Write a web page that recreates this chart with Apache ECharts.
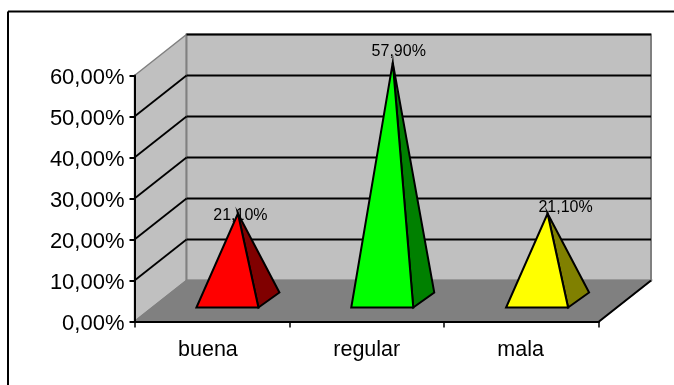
<!DOCTYPE html>
<html>
<head>
<meta charset="utf-8">
<style>html,body{margin:0;padding:0;background:#fff}#chart{width:674px;height:385px}</style>
<script src="https://cdn.jsdelivr.net/npm/echarts@6/dist/echarts.min.js"></script>
</head>
<body>
<div id="chart"></div>
<script>
// Survey result shares, in percent
const categories = ['buena', 'regular', 'mala'];
const shares = [21.1, 57.9, 21.1];
const valueTicks = [0, 10, 20, 30, 40, 50, 60];
const frontColors = ['#ff0000', '#00ff00', '#ffff00'];
const sideColors = ['#800000', '#008000', '#808000'];

// Oblique projection of the chart box, in pixels
const DEPTH_X = 52;
const DEPTH_Y = 41;
const BASE_WIDTH = 62;
const BASE_SHIFT_X = 15.5;
const BASE_FRONT_Y = 14;
const BASE_BACK_Y = 29;
const BASE_BACK_X = 21;
const labelNudge = [[2.5, 2], [6, -11], [18, -6]];
const categoryNudge = [8, 0, 2];

const percentText = v => v.toFixed(2).replace('.', ',') + '%';
const line = (x1, y1, x2, y2, stroke, lineWidth) => ({
  type: 'line',
  shape: { x1, y1, x2, y2 },
  style: { stroke, lineWidth }
});
const poly = (points, fill, stroke, lineWidth) => ({
  type: 'polygon',
  shape: { points },
  style: { fill, stroke, lineWidth, lineJoin: 'miter', miterLimit: 12 }
});

// Back wall, side wall, floor and the gridlines that wrap around them
function renderBox(params, api) {
  const band = api.size([1, 0])[0];
  const left = api.coord([0, 0])[0] - band / 2;
  const right = left + band * categories.length;
  const bottom = api.coord([0, 0])[1];
  const top = api.coord([0, 60])[1];
  const children = [
    poly([[left, bottom], [left + DEPTH_X, bottom - DEPTH_Y], [left + DEPTH_X, top - DEPTH_Y], [left, top]], '#c0c0c0', '#808080', 1.5),
    poly([[left + DEPTH_X, bottom - DEPTH_Y], [right + DEPTH_X, bottom - DEPTH_Y], [right + DEPTH_X, top - DEPTH_Y], [left + DEPTH_X, top - DEPTH_Y]], '#c0c0c0', '#808080', 2),
    poly([[left, bottom], [right, bottom], [right + DEPTH_X, bottom - DEPTH_Y], [left + DEPTH_X, bottom - DEPTH_Y]], '#808080', '#808080', 1.5)
  ];
  const topTick = valueTicks[valueTicks.length - 1];
  valueTicks.slice(1).forEach(v => {
    const y = api.coord([0, v])[1];
    // The upper edge of the side wall keeps its grey outline
    if (v !== topTick) {
      children.push(line(left, y, left + DEPTH_X, y - DEPTH_Y, '#000', 1.8));
    }
    children.push(line(left + DEPTH_X, y - DEPTH_Y, right + DEPTH_X, y - DEPTH_Y, '#000', 2));
  });
  children.push(line(right, bottom, right + DEPTH_X, bottom - DEPTH_Y, '#000', 2));
  return { type: 'group', children };
}

// One pyramid per category: value label, then lit front face and shaded side face
function renderPyramid(params, api) {
  const i = api.value(0);
  const value = api.value(1);
  const base = api.coord([i, 0]);
  const peak = api.coord([i, value]);
  const cx = base[0] + BASE_SHIFT_X;
  const fl = [cx - BASE_WIDTH / 2, base[1] - BASE_FRONT_Y];
  const fr = [cx + BASE_WIDTH / 2, base[1] - BASE_FRONT_Y];
  const br = [fr[0] + BASE_BACK_X, base[1] - BASE_BACK_Y];
  const apex = [cx + BASE_BACK_X / 2, peak[1] - (BASE_FRONT_Y + BASE_BACK_Y) / 2];
  return {
    type: 'group',
    children: [
      {
        type: 'text',
        style: {
          x: apex[0] + labelNudge[i][0],
          y: apex[1] + labelNudge[i][1],
          text: percentText(value),
          font: '16px "Liberation Sans"',
          fill: '#000',
          align: 'center',
          verticalAlign: 'middle'
        }
      },
      poly([fr, br, apex], sideColors[i], '#000', 2),
      poly([fl, fr, apex], frontColors[i], '#000', 2)
    ]
  };
}

const chart = echarts.init(document.getElementById('chart'), null, { renderer: 'canvas' });
chart.setOption({
  animation: false,
  backgroundColor: '#fff',
  grid: { left: 134.5, right: 75, top: 75.5, bottom: 63.5 },
  xAxis: {
    type: 'category',
    data: categories.map((value, i) => ({
      value,
      textStyle: { padding: [0, categoryNudge[i], 0, 0] }
    })),
    z: 5,
    axisLine: { show: true, lineStyle: { color: '#000', width: 2 } },
    axisTick: { show: true, length: 6, lineStyle: { color: '#000', width: 1.5 } },
    axisLabel: { color: '#000', fontFamily: 'Liberation Sans', fontSize: 21.5, margin: 18 },
    splitLine: { show: false }
  },
  yAxis: {
    type: 'value',
    min: valueTicks[0],
    max: valueTicks[valueTicks.length - 1],
    interval: 10,
    z: 5,
    axisLine: { show: true, lineStyle: { color: '#000', width: 2 } },
    axisTick: { show: true, length: 5, lineStyle: { color: '#000', width: 2 } },
    axisLabel: {
      color: '#000',
      fontFamily: 'Liberation Sans',
      fontSize: 22,
      margin: 10,
      verticalAlign: 'top',
      lineHeight: 5,
      formatter: percentText
    },
    splitLine: { show: false }
  },
  // Page frame: only the top and left edges fall inside the canvas
  graphic: [
    { type: 'line', z: 10, shape: { x1: 8, y1: 11.5, x2: 674, y2: 11.5 }, style: { stroke: '#000', lineWidth: 2 } },
    { type: 'line', z: 10, shape: { x1: 8, y1: 11.5, x2: 8, y2: 385 }, style: { stroke: '#000', lineWidth: 2 } }
  ],
  series: [
    { type: 'custom', z: 1, silent: true, clip: false, renderItem: renderBox, data: [[0, 0]] },
    {
      type: 'custom',
      z: 6,
      silent: true,
      clip: false,
      renderItem: renderPyramid,
      encode: { x: 0, y: 1 },
      data: shares.map((v, i) => [i, v])
    }
  ]
});
</script>
</body>
</html>
